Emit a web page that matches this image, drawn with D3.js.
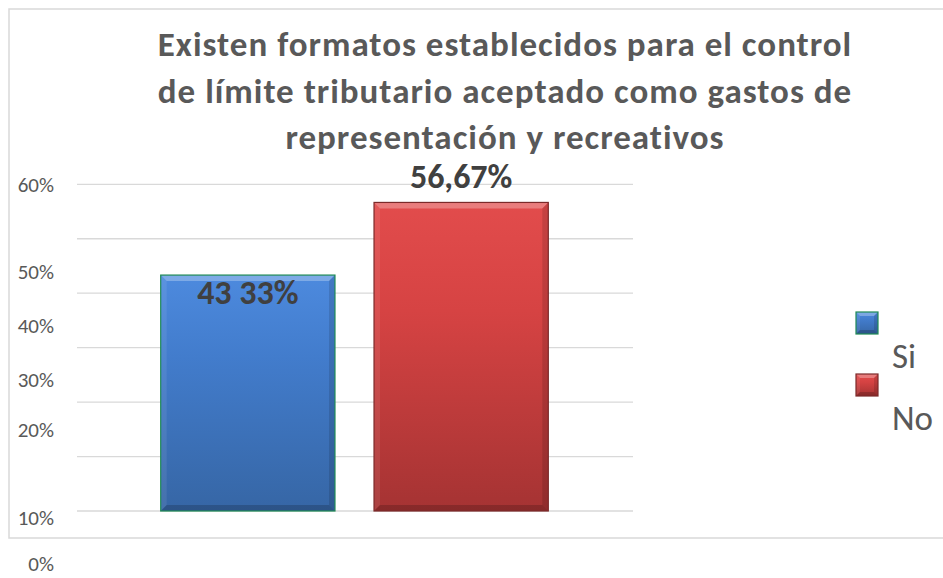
<!DOCTYPE html>
<html><head><meta charset="utf-8">
<script src="https://cdn.jsdelivr.net/npm/d3@7"></script>
<style>body{margin:0;background:#fff} svg{display:block}</style>
</head><body><svg id="c" width="943" height="578"></svg>
<script>
// ---- data ----
const categories = ["Si", "No"];
const values = [43.33, 56.67];
const valueLabels = ["43 33%", "56,67%"];
const tickValues = [0, 10, 20, 30, 40, 50, 60];
const tickLabels = ["0%", "10%", "20%", "30%", "40%", "50%", "60%"];
const titleLines = [
  "Existen formatos establecidos para el control",
  "de límite tributario aceptado como gastos de",
  "representación y recreativos"
];

// ---- layout ----
const svg = d3.select("#c");
const FONT = "Carlito, Calibri, Lato, 'Open Sans', sans-serif";
const TXT = "#595959";
const y = d3.scaleLinear().domain([0, 60]).range([511, 184.3]);
// the source picture has its tick labels drawn out of step with the grid
const labelY = d3.scaleLinear().domain(tickValues).range([564, 518, 430, 380, 326, 272, 185]);
const x = d3.scaleBand().domain(categories).range([141.5, 567.5]).paddingInner(0.183).paddingOuter(0.09);

const styles = {
  Si: {top: "#4d8ade", mid: "#427ccc", bot: "#3666a5", stroke: "#1e8a56"},
  No: {top: "#e24c4c", mid: "#d64343", bot: "#a53333", stroke: "#7c2a2a"}
};

const defs = svg.append("defs");
categories.forEach(c => {
  const s = styles[c];
  const g = defs.append("linearGradient").attr("id", "g" + c).attr("x1", 0).attr("y1", 0).attr("x2", 0).attr("y2", 1);
  g.append("stop").attr("offset", 0).attr("stop-color", s.top);
  g.append("stop").attr("offset", 0.35).attr("stop-color", s.mid);
  g.append("stop").attr("offset", 1).attr("stop-color", s.bot);
});

// chart border
svg.append("rect").attr("x", 9).attr("y", 9).attr("width", 945).attr("height", 529)
  .attr("fill", "none").attr("stroke", "#d9d9d9").attr("stroke-width", 1.5);

// gridlines
svg.append("g").selectAll("line").data(tickValues).join("line")
  .attr("x1", 77).attr("x2", 633)
  .attr("y1", d => y(d)).attr("y2", d => y(d))
  .attr("stroke", "#d9d9d9").attr("stroke-width", 1.3);

// y tick labels
svg.append("g").selectAll("text").data(tickValues).join("text")
  .attr("x", 54).attr("y", d => labelY(d)).attr("dy", "0.35em")
  .attr("text-anchor", "end").attr("font-family", FONT).attr("font-size", 21)
  .attr("fill", TXT).text((d, i) => tickLabels[i]);

// bevelled box helper
function bevelBox(g, c, x0, y0, w, h, b) {
  const s = styles[c];
  g.append("rect").attr("x", x0).attr("y", y0).attr("width", w).attr("height", h).attr("fill", `url(#g${c})`);
  const x1 = x0 + w, y1 = y0 + h;
  const poly = (pts, fill, op) => g.append("polygon").attr("points", pts.map(p => p.join(",")).join(" "))
    .attr("fill", fill).attr("fill-opacity", op);
  poly([[x0, y0], [x1, y0], [x1 - b, y0 + b], [x0 + b, y0 + b]], "#fff", 0.28);
  poly([[x0, y0], [x0 + b, y0 + b], [x0 + b, y1 - b], [x0, y1]], "#fff", 0.08);
  poly([[x1, y0], [x1, y1], [x1 - b, y1 - b], [x1 - b, y0 + b]], "#000", 0.12);
  poly([[x0, y1], [x0 + b, y1 - b], [x1 - b, y1 - b], [x1, y1]], "#000", 0.18);
  g.append("rect").attr("x", x0).attr("y", y0).attr("width", w).attr("height", h)
    .attr("fill", "none").attr("stroke", s.stroke).attr("stroke-width", 1.2);
}

// bars
const barsG = svg.append("g");
categories.forEach((c, i) => {
  bevelBox(barsG, c, x(c), y(values[i]), x.bandwidth(), y(0) - y(values[i]), 6);
});

// value labels (first drawn inside the bar, second above it, as in the source)
const labelOffset = [29, -14];
svg.append("g").selectAll("text").data(categories).join("text")
  .attr("x", c => x(c) + x.bandwidth() / 2)
  .attr("y", (c, i) => y(values[i]) + labelOffset[i])
  .attr("text-anchor", "middle").attr("font-family", FONT).attr("font-weight", "bold")
  .attr("font-size", 34).attr("fill", "#404040")
  .text((c, i) => valueLabels[i]);

// title
svg.append("g").selectAll("text").data(titleLines).join("text")
  .attr("x", 505).attr("y", (d, i) => 56 + i * 46.5)
  .attr("text-anchor", "middle").attr("font-family", FONT).attr("font-weight", "bold")
  .attr("font-size", 35).attr("letter-spacing", 1).attr("fill", TXT).text(d => d);

// legend
const leg = svg.append("g");
categories.forEach((c, i) => {
  const top = 312 + i * 62;
  const lg = leg.append("g");
  bevelBox(lg, c, 856, top, 22, 22, 4);
  leg.append("text").attr("x", 892).attr("y", top + 56)
    .attr("font-family", FONT).attr("font-size", 35).attr("fill", TXT).text(c);
});
</script>
</body></html>
